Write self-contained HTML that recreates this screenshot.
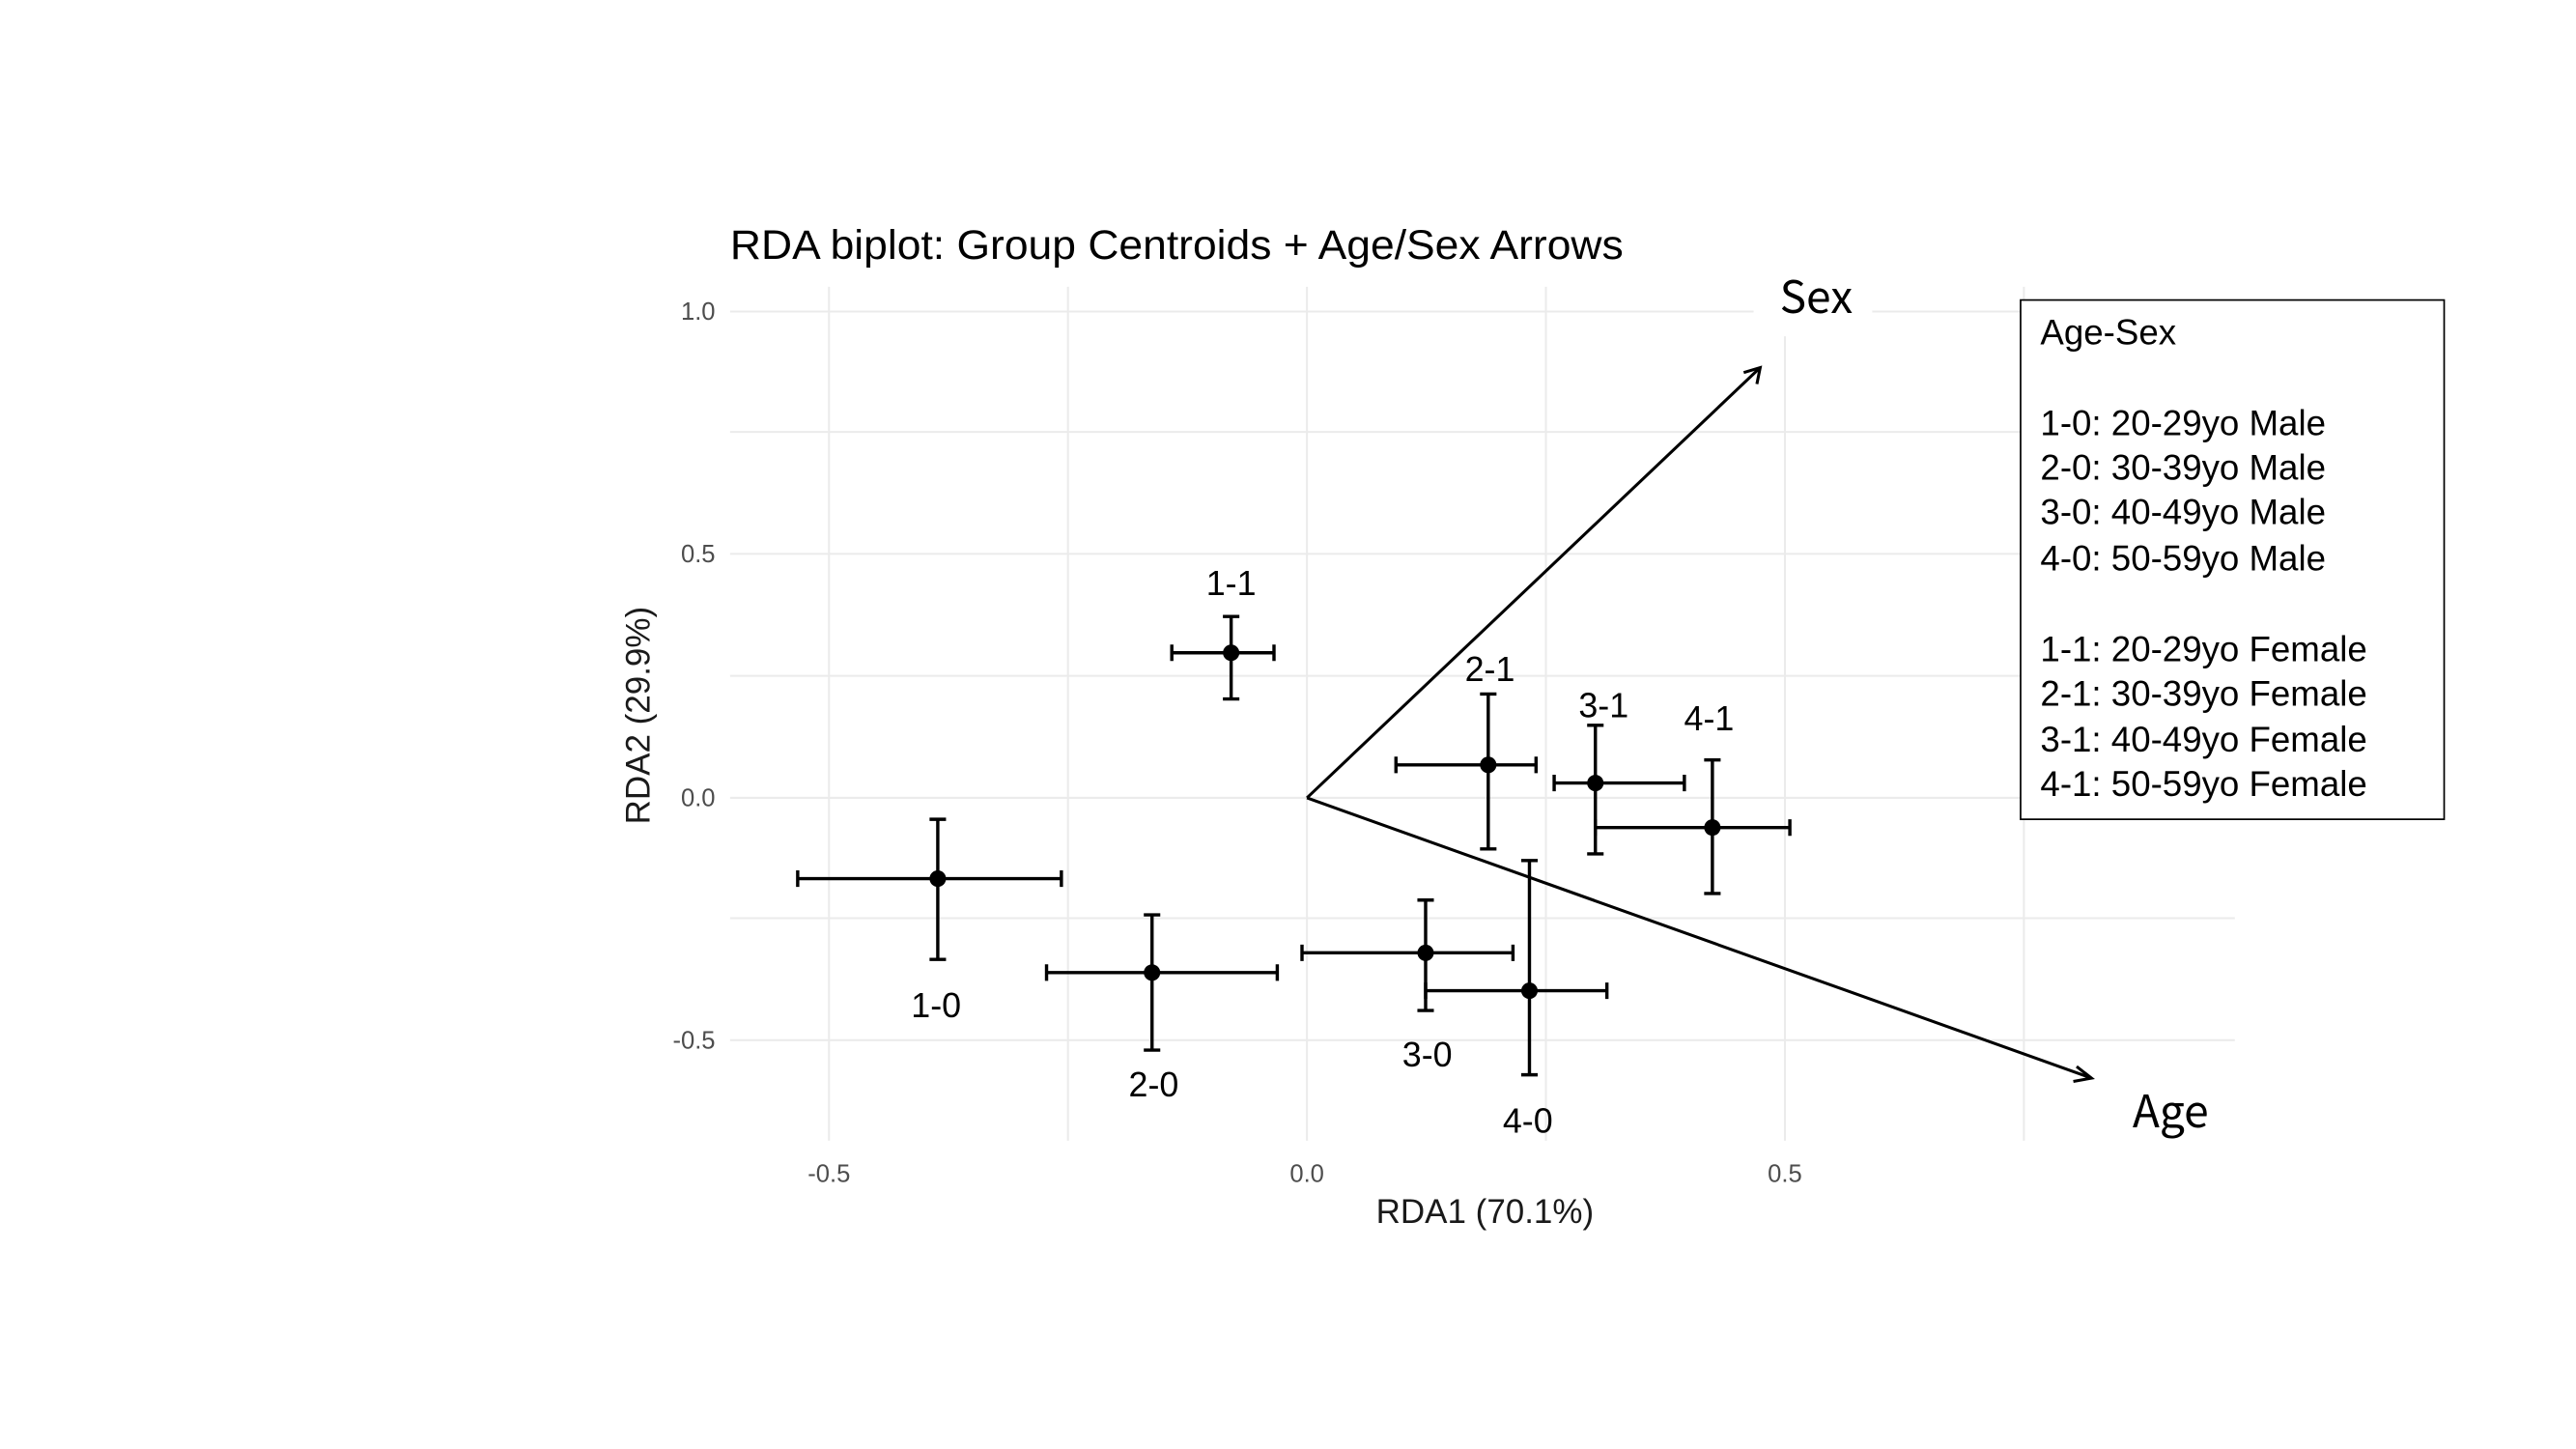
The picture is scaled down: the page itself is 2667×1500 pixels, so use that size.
<!DOCTYPE html>
<html><head><meta charset="utf-8"><style>
html,body{margin:0;padding:0;background:#fff;}
svg{display:block;}
</style></head><body>
<svg width="2667" height="1500" viewBox="0 0 1563 879" preserveAspectRatio="none" xmlns="http://www.w3.org/2000/svg">
<rect width="1563" height="879" fill="#fff"/>
<g transform="translate(-2,-1)">
<g stroke="#ebebeb" stroke-width="1.2">
<line x1="445" y1="190" x2="1358" y2="190"/>
<line x1="445" y1="263" x2="1358" y2="263"/>
<line x1="445" y1="337" x2="1358" y2="337"/>
<line x1="445" y1="411" x2="1358" y2="411"/>
<line x1="445" y1="485" x2="1358" y2="485"/>
<line x1="445" y1="558" x2="1358" y2="558"/>
<line x1="445" y1="632" x2="1358" y2="632"/>
<line x1="505" y1="175" x2="505" y2="693"/>
<line x1="650" y1="175" x2="650" y2="693"/>
<line x1="795" y1="175" x2="795" y2="693"/>
<line x1="940" y1="175" x2="940" y2="693"/>
<line x1="1085" y1="175" x2="1085" y2="693"/>
<line x1="1230" y1="175" x2="1230" y2="693"/>
</g>
<rect x="1066" y="165" width="72" height="40" fill="#fff"/>
<g font-family="Liberation Sans, sans-serif" font-size="15" fill="#4d4d4d">
<text x="436" y="195" text-anchor="end">1.0</text>
<text x="436" y="342" text-anchor="end">0.5</text>
<text x="436" y="490" text-anchor="end">0.0</text>
<text x="436" y="637" text-anchor="end">-0.5</text>
<text x="505" y="718" text-anchor="middle">-0.5</text>
<text x="795" y="718" text-anchor="middle">0.0</text>
<text x="1085" y="718" text-anchor="middle">0.5</text>
</g>
<g font-family="Liberation Sans, sans-serif" font-size="20.5" fill="#1a1a1a">
<text x="903" y="743" text-anchor="middle">RDA1 (70.1%)</text>
<text transform="translate(396,435) rotate(-90)" text-anchor="middle">RDA2 (29.9%)</text>
</g>
<text x="445" y="158" font-family="Liberation Sans, sans-serif" font-size="25" fill="#000" textLength="542" lengthAdjust="spacingAndGlyphs">RDA biplot: Group Centroids + Age/Sex Arrows</text>
<g stroke="#000" stroke-width="1.8" fill="none">
<line x1="795" y1="485" x2="1070" y2="224"/>
<polyline points="1060,227 1070,224 1068,234"/>
<line x1="795" y1="485" x2="1271" y2="655"/>
<polyline points="1262,648 1271,655 1260,657"/>
</g>
<g stroke="#000" stroke-width="2" fill="none">
<path d="M486,534H646M486,529V539M646,529V539M571,498V583M566,498H576M566,583H576"/>
<path d="M637,591H777M637,586V596M777,586V596M701,556V638M696,556H706M696,638H706"/>
<path d="M713,397H775M713,392V402M775,392V402M749,375V425M744,375H754M744,425H754"/>
<path d="M849,465H934M849,460V470M934,460V470M905,422V516M900,422H910M900,516H910"/>
<path d="M945,476H1024M945,471V481M1024,471V481M970,441V519M965,441H975M965,519H975"/>
<path d="M970,503H1088M970,498V508M1088,498V508M1041,462V543M1036,462H1046M1036,543H1046"/>
<path d="M792,579H920M792,574V584M920,574V584M867,547V614M862,547H872M862,614H872"/>
<path d="M867,602H977M867,597V607M977,597V607M930,523V653M925,523H935M925,653H935"/>
</g>
<g fill="#000">
<circle cx="571" cy="534" r="5"/><circle cx="701" cy="591" r="5"/>
<circle cx="749" cy="397" r="5"/><circle cx="905" cy="465" r="5"/>
<circle cx="970" cy="476" r="5"/><circle cx="1041" cy="503" r="5"/>
<circle cx="867" cy="579" r="5"/><circle cx="930" cy="602" r="5"/>
</g>
<g font-family="Liberation Sans, sans-serif" font-size="21" fill="#000" text-anchor="middle">
<text x="570" y="618">1-0</text>
<text x="702" y="666">2-0</text>
<text x="749" y="362">1-1</text>
<text x="906" y="414">2-1</text>
<text x="975" y="436">3-1</text>
<text x="1039" y="444">4-1</text>
<text x="868" y="648">3-0</text>
<text x="929" y="688">4-0</text>
</g>
<g font-family="'Noto Sans CJK JP', sans-serif" font-weight="400" font-size="27" fill="#000" text-anchor="middle">
<text x="1104" y="191">Sex</text>
<text x="1319" y="685">Age</text>
</g>
<rect x="1228" y="183" width="257" height="315" fill="#fff" stroke="#000" stroke-width="1"/>
<g font-family="Liberation Sans, sans-serif" font-size="21.5" fill="#000">
<text x="1240" y="210">Age-Sex</text>
<text x="1240" y="265">1-0: 20-29yo Male</text>
<text x="1240" y="292">2-0: 30-39yo Male</text>
<text x="1240" y="319">3-0: 40-49yo Male</text>
<text x="1240" y="347">4-0: 50-59yo Male</text>
<text x="1240" y="402">1-1: 20-29yo Female</text>
<text x="1240" y="429">2-1: 30-39yo Female</text>
<text x="1240" y="457">3-1: 40-49yo Female</text>
<text x="1240" y="484">4-1: 50-59yo Female</text>
</g>
</g>
</svg>
</body></html>
